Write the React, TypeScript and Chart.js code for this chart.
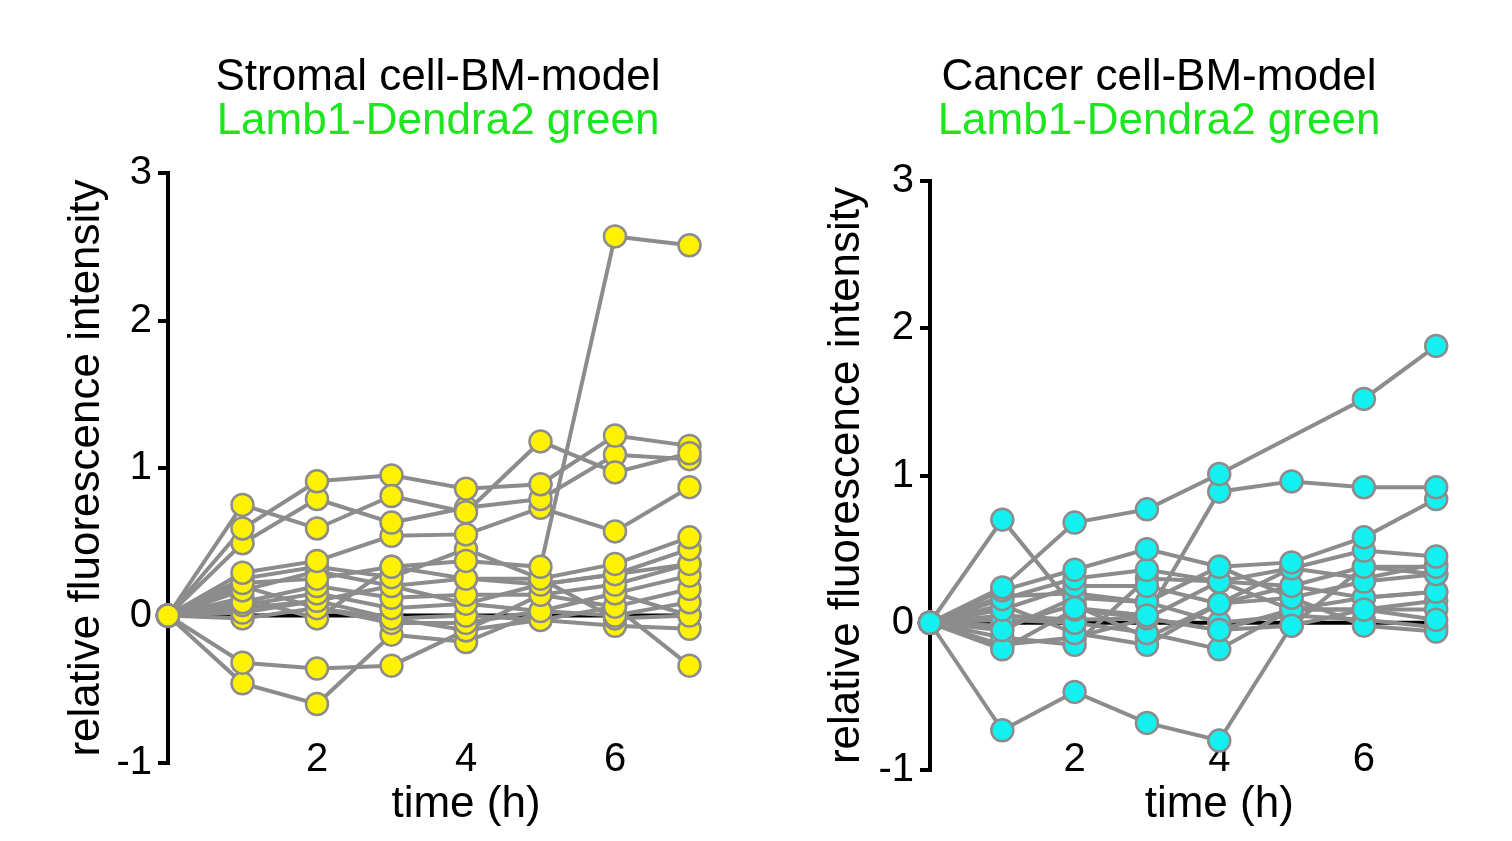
import React, { useEffect, useRef } from 'react';
import { Chart, registerables } from 'chart.js';
Chart.register(...registerables);

const FONT = '"Liberation Sans", Arial, sans-serif';

// time points (h)
const times = [0, 1, 2, 3, 4, 5, 6, 7];
const xTickLabels = [2, 4, 6];

// Stromal cell-BM-model: relative fluorescence intensity per tracked region
const stromal01 = [0, 0.75, 0.59, 0.81, 0.70, 1.18, 0.97, 1.10];
const stromal02 = [0, 0.59, 0.91, 0.95, 0.86, 0.89, 1.22, 1.15];
const stromal03 = [0, 0.49, 0.79, 0.63, 0.73, 0.79, 1.09, 1.06];
const stromal04 = [0, 0.29, 0.37, 0.54, 0.55, 0.73, 0.57, 0.87];
const stromal05 = [0, 0.22, 0.25, 0.33, 0.37, 0.33, 2.57, 2.51];
const stromal06 = [0, 0.25, 0.33, 0.26, 0.45, 0.25, 0.35, 0.53];
const stromal07 = [0, 0.17, 0.30, 0.20, 0.25, 0.21, 0.28, 0.45];
const stromal08 = [0, 0.09, 0.20, 0.12, 0.14, 0.14, 0.21, 0.35];
const stromal09 = [0, 0.07, 0.15, 0.05, 0.08, 0.03, 0.15, 0.27];
const stromal10 = [0, 0.02, 0.10, -0.02, 0.00, -0.03, 0.06, 0.18];
const stromal11 = [0, -0.02, 0.05, -0.05, -0.05, 0.03, 0.00, 0.09];
const stromal12 = [0, 0.12, -0.02, 0.33, 0.25, 0.25, -0.02, 0.00];
const stromal13 = [0, 0.20, 0.05, -0.02, -0.10, 0.14, 0.06, -0.34];
const stromal14 = [0, -0.32, -0.36, -0.34, -0.10, -0.03, -0.07, -0.09];
const stromal15 = [0, -0.46, -0.60, -0.13, -0.18, 0.03, 0.15, 0.00];
const stromal16 = [0, 0.05, 0.10, 0.20, 0.08, 0.21, 0.28, 0.35];

// Cancer cell-BM-model
const cancer01 = [0, 0.24, 0.68, 0.77, 1.01, null, 1.52, 1.88];
const cancer02 = [0, 0.70, 0.10, 0.05, 0.89, 0.96, 0.92, 0.92];
const cancer03 = [0, -0.73, -0.47, -0.68, -0.80, -0.02, 0.09, 0.02];
const cancer04 = [0, 0.22, 0.36, 0.50, 0.38, 0.41, 0.58, 0.84];
const cancer05 = [0, 0.16, 0.30, 0.36, 0.28, 0.37, 0.49, 0.45];
const cancer06 = [0, 0.09, 0.25, 0.25, 0.13, 0.25, 0.38, 0.38];
const cancer07 = [0, -0.05, 0.17, 0.14, 0.38, 0.17, 0.28, 0.33];
const cancer08 = [0, -0.18, 0.09, 0.03, -0.05, 0.09, 0.17, 0.21];
const cancer09 = [0, 0.02, 0.00, -0.07, -0.18, 0.09, 0.09, 0.09];
const cancer10 = [0, 0.12, -0.07, -0.15, 0.13, 0.17, -0.02, -0.06];
const cancer11 = [0, -0.10, -0.15, 0.30, 0.28, 0.25, 0.17, 0.21];
const cancer12 = [0, 0.05, 0.02, 0.03, -0.05, -0.02, 0.38, 0.33];
const cancer13 = [0, 0.18, 0.20, 0.14, 0.00, 0.05, 0.02, -0.03];
const cancer14 = [0, -0.02, 0.12, -0.10, 0.13, 0.37, 0.30, 0.40];
const cancer15 = [0, -0.15, -0.10, 0.03, 0.28, 0.09, 0.09, 0.15];

const zeroLine = [0, 0, 0, 0, 0, 0, 0, 0];

const stromalSeries = [stromal01, stromal02, stromal03, stromal04, stromal05, stromal06, stromal07, stromal08,
  stromal09, stromal10, stromal11, stromal12, stromal13, stromal14, stromal15, stromal16];
const cancerSeries = [cancer01, cancer02, cancer03, cancer04, cancer05, cancer06, cancer07, cancer08,
  cancer09, cancer10, cancer11, cancer12, cancer13, cancer14, cancer15];

const GREY = '#8c8c8c';

type PanelProps = {
  left: number; width: number; title: string; series: (number | null)[][]; fill: string;
  yAxisWidth: number; rightWidth: number; xAxisHeight: number; subPadBottom: number;
  yTitlePad: number; xTickPad: number;
};

function Panel(p: PanelProps) {
  const ref = useRef<HTMLCanvasElement>(null);
  useEffect(() => {
    if (!ref.current) return;
    const toPts = (s: (number | null)[]) => times.map((t, i) => ({ x: t, y: s[i] }));
    const lineSets = p.series.map((s) => ({
      data: toPts(s), borderColor: GREY, borderWidth: 4, pointRadius: 0, showLine: true,
      spanGaps: true, clip: false as any, order: 2,
    }));
    const pointSets = p.series.map((s) => ({
      data: toPts(s), showLine: false, pointRadius: 11, pointBackgroundColor: p.fill,
      pointBorderColor: GREY, pointBorderWidth: 2.5, borderColor: GREY, clip: false as any, order: 1,
    }));
    const zero = {
      data: toPts(zeroLine), borderColor: '#000', borderWidth: 4, pointRadius: 0, showLine: true,
      clip: false as any, order: 3,
    };
    const chart = new Chart(ref.current, {
      type: 'line',
      data: { datasets: [...pointSets, ...lineSets, zero] as any },
      options: {
        animation: false,
        responsive: false,
        devicePixelRatio: 1,
        events: [],
        layout: { padding: { top: 56, left: 0, right: 0, bottom: 0 } },
        plugins: {
          legend: { display: false },
          tooltip: { enabled: false },
          title: {
            display: true, text: p.title, color: '#000',
            font: { family: FONT, size: 44, weight: 'normal', lineHeight: 1 },
            padding: { top: 0, bottom: 0 },
          },
          subtitle: {
            display: true, text: 'Lamb1-Dendra2 green', color: '#1ee61e',
            font: { family: FONT, size: 44, weight: 'normal', lineHeight: 1 },
            padding: { top: 0, bottom: p.subPadBottom },
          },
        },
        scales: {
          x: {
            type: 'linear', min: 0, max: 8,
            ticks: {
              stepSize: 2, color: '#000', padding: p.xTickPad, autoSkip: false, maxRotation: 0, mirror: true,
              font: { family: FONT, size: 40, lineHeight: 1 },
              callback: (v: any) => (xTickLabels.includes(Number(v)) ? String(v) : ''),
            },
            grid: { display: false },
            border: { display: false },
            title: {
              display: true, text: 'time (h)', color: '#000',
              font: { family: FONT, size: 44, lineHeight: 1 }, padding: { top: 0, bottom: 14 },
            },
            afterFit: (s: any) => { s.height = p.xAxisHeight; },
          },
          y: {
            type: 'linear', min: -1, max: 3,
            ticks: { stepSize: 1, color: '#000', padding: 6, font: { family: FONT, size: 40, lineHeight: 1 } },
            grid: { display: true, drawOnChartArea: false, drawTicks: true, tickLength: 10, color: '#000', lineWidth: 4 },
            border: { display: true, color: '#000', width: 4 },
            title: {
              display: true, text: 'relative fluorescence intensity', color: '#000',
              font: { family: FONT, size: 44, lineHeight: 1 }, padding: { top: p.yTitlePad, bottom: 0 },
            },
            afterFit: (s: any) => { s.width = p.yAxisWidth; },
          },
          yR: {
            type: 'linear', position: 'right', display: true, min: 0, max: 1,
            ticks: { display: false }, grid: { display: false }, border: { display: false },
            afterFit: (s: any) => { s.width = p.rightWidth; },
          },
        },
      } as any,
    });
    return () => chart.destroy();
  }, []);
  return (
    <canvas ref={ref} width={p.width} height={841}
      style={{ position: 'absolute', left: p.left, top: 0, width: p.width, height: 841 }} />
  );
}

export default function App() {
  return (
    <div style={{ position: 'fixed', left: 0, top: 0, width: 1512, height: 841, background: '#fff', overflow: 'hidden' }}>
      <Panel left={0} width={876} title="Stromal cell-BM-model" series={stromalSeries} fill="#fff200"
        yAxisWidth={168} rightWidth={112} xAxisHeight={78} subPadBottom={29} yTitlePad={65} xTickPad={-17} />
      <Panel left={796} width={726} title="Cancer cell-BM-model" series={cancerSeries} fill="#14f0f0"
        yAxisWidth={134} rightWidth={2} xAxisHeight={71} subPadBottom={37} yTitlePad={29} xTickPad={-10} />
    </div>
  );
}
